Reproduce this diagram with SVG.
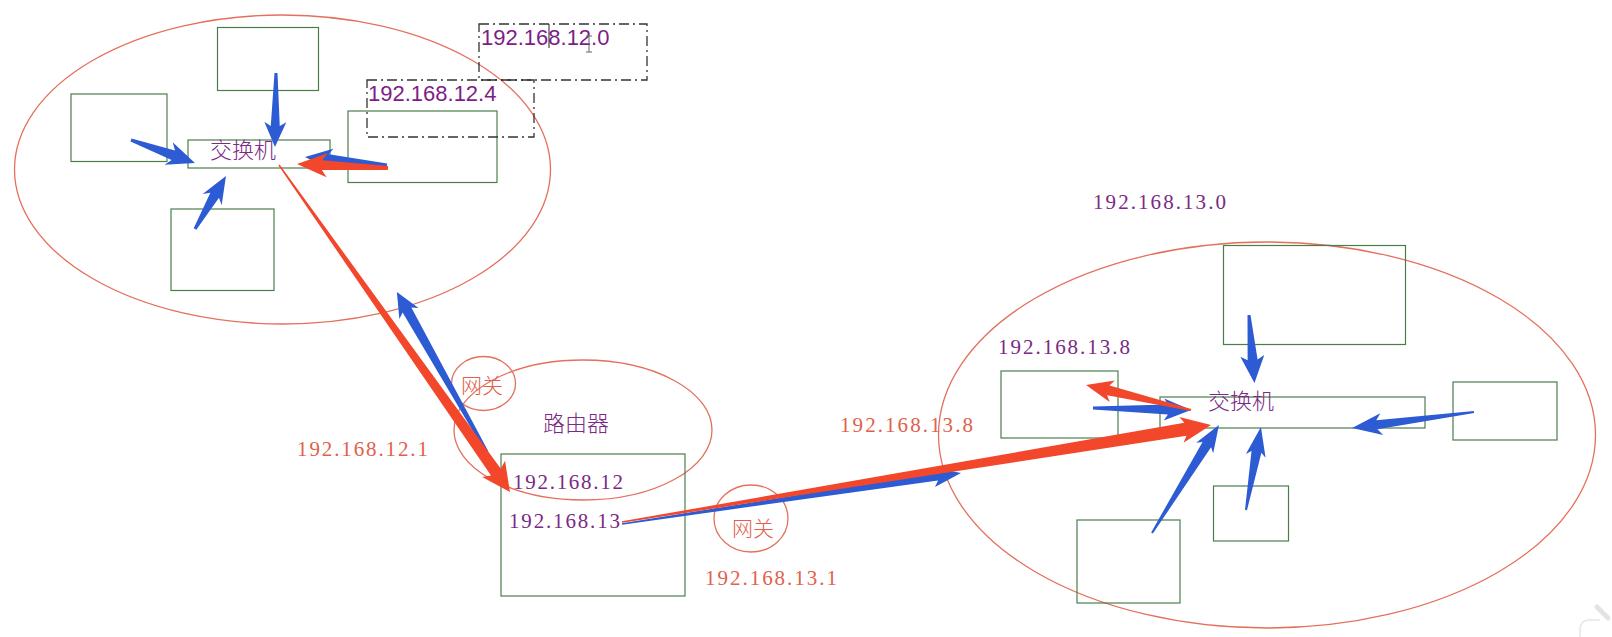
<svg xmlns="http://www.w3.org/2000/svg" width="1612" height="637" viewBox="0 0 1612 637">
<style>
.box{fill:none;stroke:#4b7d4b;stroke-width:1.2}
.ell{fill:none;stroke:#e4705c;stroke-width:1.3}
.dash{fill:none;stroke:#333;stroke-width:1.3;stroke-dasharray:10 4 2 4}
.blue{fill:#2d5bd4}
.red{fill:#f3472c}
.ipsans{font-family:"Liberation Sans",Arial,sans-serif;font-size:22px;fill:#7d1e86}
.ipser{font-family:"Liberation Serif","Times New Roman",serif;font-size:21px}
.pur{fill:#7a2a84}
.rtx{fill:#e2604c}
.cjk{font-family:"Noto Sans CJK SC","Noto Sans",sans-serif;font-size:22px;font-weight:300}
</style>
<rect width="1612" height="637" fill="#ffffff"/>

<g id="network-12">
  <ellipse class="ell" cx="282.5" cy="169.5" rx="268" ry="154.5"/>
</g>
<g id="host-12-top"><rect class="box" x="217.5" y="27.5" width="101" height="63"/></g>
<g id="host-12-left"><rect class="box" x="71" y="94" width="96" height="67.5"/></g>
<g id="switch-12">
  <rect class="box" x="188" y="140" width="142" height="28"/>
  <text class="cjk pur" x="210" y="158">交换机</text>
</g>
<g id="host-12-right"><rect class="box" x="348" y="111" width="149" height="71.5"/></g>
<g id="host-12-bottom"><rect class="box" x="171" y="209" width="103" height="81.5"/></g>

<g id="label-12-0">
  <rect class="dash" x="479" y="24" width="168" height="56"/>
  <text class="ipsans" x="481" y="45">192.168.12.0</text>
  <line x1="549" y1="24" x2="549" y2="48" stroke="#222" stroke-width="1"/>
  <path d="M586,36 H592 M589,36 V52 M586,52 H592" stroke="#666" stroke-width="1" fill="none"/>
</g>
<g id="label-12-4">
  <rect class="dash" x="367" y="80" width="167" height="57"/>
  <text class="ipsans" x="368" y="100.5">192.168.12.4</text>
</g>

<g id="router">
  <ellipse class="ell" cx="583" cy="430" rx="129" ry="70"/>
  <text class="cjk pur" x="543" y="431">路由器</text>
  <rect class="box" x="501" y="454" width="184" height="142"/>
  <text class="ipser pur" x="513" y="489" textLength="110" lengthAdjust="spacing">192.168.12</text>
  <text class="ipser pur" x="509" y="528" textLength="111" lengthAdjust="spacing">192.168.13</text>
</g>

<g id="gateway-12">
  <ellipse class="ell" cx="483.5" cy="383.5" rx="32" ry="27"/>
  <text class="cjk rtx" x="461" y="393" style="font-size:21px">网关</text>
  <text class="ipser rtx" x="297" y="456" textLength="131" lengthAdjust="spacing">192.168.12.1</text>
</g>

<g id="gateway-13">
  <ellipse class="ell" cx="751" cy="518.5" rx="37" ry="33.5"/>
  <text class="cjk rtx" x="732" y="536" style="font-size:21px">网关</text>
  <text class="ipser rtx" x="705" y="585" textLength="132" lengthAdjust="spacing">192.168.13.1</text>
  <text class="ipser rtx" x="840" y="432" textLength="133" lengthAdjust="spacing">192.168.13.8</text>
</g>

<g id="network-13">
  <ellipse class="ell" cx="1267" cy="435" rx="328.5" ry="193"/>
  <text class="ipser pur" x="1093" y="209" textLength="133" lengthAdjust="spacing">192.168.13.0</text>
</g>
<g id="host-13-top"><rect class="box" x="1223.5" y="245.5" width="182" height="99"/></g>
<g id="host-13-left">
  <rect class="box" x="1001" y="371" width="117" height="67"/>
  <text class="ipser pur" x="998" y="354" textLength="132" lengthAdjust="spacing">192.168.13.8</text>
</g>
<g id="switch-13">
  <rect class="box" x="1160" y="397" width="265" height="31"/>
  <text class="cjk pur" x="1208" y="409">交换机</text>
</g>
<g id="host-13-right"><rect class="box" x="1453" y="382" width="104" height="58"/></g>
<g id="host-13-bottom-mid"><rect class="box" x="1213.5" y="486" width="75" height="55"/></g>
<g id="host-13-bottom-left"><rect class="box" x="1077" y="520" width="103" height="83"/></g>

<g id="connectors">
  <polygon class="blue" transform="translate(276,73) rotate(90.8)" points="0,-1.5 53,-4.5 49,-11 74,0 49,11 53,4.5 0,1.5"/>
  <polygon class="blue" transform="translate(131,140) rotate(19.8)" points="0,-1.5 45,-5 40,-12 68,0 40,12 45,5 0,1.5"/>
  <polygon class="blue" transform="translate(195,229) rotate(-59.7)" points="0,-1.5 39,-5 34,-11 61.4,0 34,11 39,5 0,1.5"/>
  <polygon class="blue" transform="translate(387,165) rotate(-174.4)" points="0,-1.5 59,-5 55,-11 82.4,0 55,11 59,5 0,1.5"/>
  <polygon class="red" transform="translate(388,168) rotate(-177.5)" points="0,-2 66,-5 61,-12 91.1,0 61,12 66,5 0,2"/>

  <polygon class="blue" transform="translate(487,452) rotate(-119.4)" points="0,-1.5 163,-5 159,-11 183.6,0 159,11 163,5 0,1.5"/>
  <polygon class="red" transform="translate(279,165) rotate(54.77)" points="0,-0.7 376,-6 372,-14 400.4,0 372,14 376,6 0,0.7"/>

  <polygon class="blue" transform="translate(622,524) rotate(-8.56)" points="0,-0.7 319,-4 315,-10 342.8,0 315,10 319,4 0,0.7"/>
  <polygon class="red" transform="translate(622,522) rotate(-9.35)" points="0,-0.7 571,-6.5 567,-13 596.9,0 567,13 571,6.5 0,0.7"/>

  <polygon class="blue" transform="translate(1249,315) rotate(85.4)" points="0,-1.5 45,-5 41,-12 68.2,0 41,12 45,5 0,1.5"/>
  <polygon class="blue" transform="translate(1474,412) rotate(172.5)" points="0,-1 98,-4.5 93,-11 123,0 93,11 98,4.5 0,1"/>
  <polygon class="blue" transform="translate(1246,510) rotate(-79.8)" points="0,-1 59,-5 55,-10 84.3,0 55,10 59,5 0,1"/>
  <polygon class="blue" transform="translate(1152,533) rotate(-58.2)" points="0,-1 104,-5 100,-10 127.1,0 100,10 104,5 0,1"/>
  <polygon class="blue" transform="translate(1093,408) rotate(1.17)" points="0,-1.5 75,-5 71,-11 98,0 71,11 75,5 0,1.5"/>
  <polygon class="red" transform="translate(1191,410) rotate(-166.6)" points="0,-1 85,-5 81,-11 107.9,0 81,11 85,5 0,1"/>
</g>

<path d="M1580,637 V630 Q1580,620 1590,620 H1600" fill="none" stroke="#e6e6e6" stroke-width="1.5"/>
<line x1="1597" y1="607" x2="1608" y2="618" stroke="#e3e3e3" stroke-width="5" stroke-linecap="round"/>
</svg>
